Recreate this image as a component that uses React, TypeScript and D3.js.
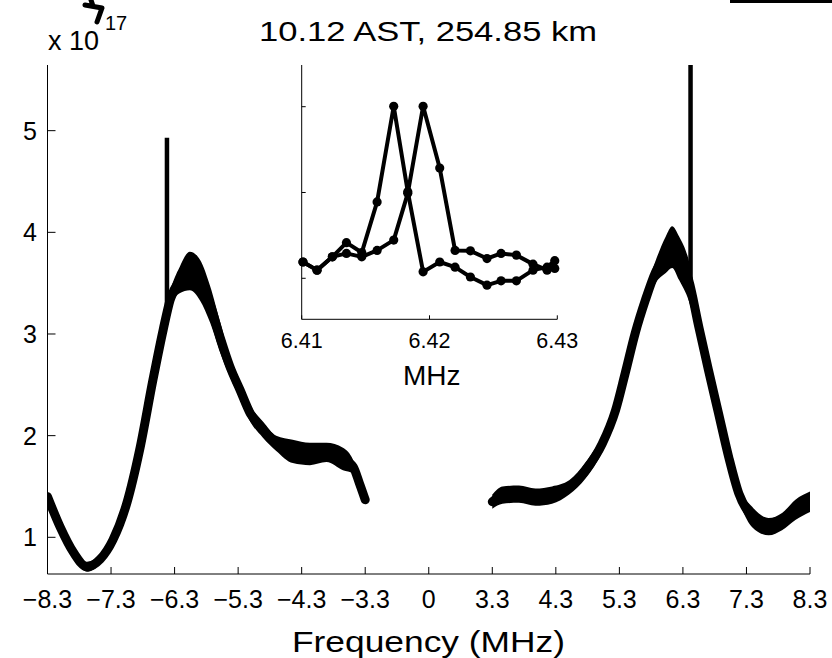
import React from "react";
import * as d3 from "d3";

// ---------- data ----------
const xTickValues = [-8.3, -7.3, -6.3, -5.3, -4.3, -3.3, 0, 3.3, 4.3, 5.3, 6.3, 7.3, 8.3];
const yTickValues = [1, 2, 3, 4, 5];

const leftFreq = [-8.3, -8.1, -7.89, -7.68, -7.47, -7.27, -7.05, -6.85, -6.64, -6.48, -6.37, -6.22, -6.06, -5.9, -5.74, -5.58, -5.43, -5.27, -5.11, -4.91, -4.7, -4.44, -4.17, -3.91, -3.65, -3.49, -3.39, -3.3];
const leftLow = [1.37, 1.07, 0.82, 0.66, 0.74, 0.94, 1.3, 1.81, 2.5, 2.98, 3.25, 3.4, 3.43, 3.33, 3.11, 2.81, 2.58, 2.36, 2.14, 1.98, 1.85, 1.73, 1.71, 1.74, 1.66, 1.63, 1.48, 1.33];
const leftHigh = [1.43, 1.13, 0.88, 0.76, 0.83, 1.01, 1.38, 1.91, 2.6, 3.1, 3.42, 3.66, 3.81, 3.73, 3.47, 3.11, 2.78, 2.54, 2.3, 2.14, 2.0, 1.96, 1.93, 1.93, 1.88, 1.76, 1.58, 1.41];

const rightFreq = [3.3, 3.46, 3.72, 3.98, 4.24, 4.51, 4.77, 5.03, 5.24, 5.39, 5.55, 5.71, 5.87, 6.03, 6.13, 6.24, 6.39, 6.55, 6.7, 6.86, 7.02, 7.18, 7.39, 7.65, 7.86, 8.07, 8.3];
const rightLow = [1.28, 1.33, 1.34, 1.31, 1.33, 1.42, 1.58, 1.84, 2.17, 2.53, 2.93, 3.25, 3.5, 3.6, 3.65, 3.53, 3.33, 2.95, 2.55, 2.13, 1.71, 1.36, 1.1, 1.02, 1.07, 1.17, 1.25];
const rightHigh = [1.42, 1.5, 1.51, 1.48, 1.5, 1.56, 1.74, 2.0, 2.33, 2.69, 3.09, 3.42, 3.72, 3.96, 4.06, 3.96, 3.73, 3.19, 2.75, 2.31, 1.87, 1.5, 1.3, 1.19, 1.24, 1.37, 1.45];

const spikeFreq = [-6.42, 6.42];
const spikeBase = [3.2, 3.5];
const spikeTop = [4.93, 8.0];

const insetFreq = [6.4101, 6.4112, 6.4124, 6.4135, 6.4147, 6.4159, 6.4172, 6.4183, 6.4195, 6.4208, 6.422, 6.4232, 6.4245, 6.4256, 6.4268, 6.4281, 6.4292, 6.4298];
const insetA = [4.38, 4.19, 4.5, 4.83, 4.6, 5.78, 8.01, 6.02, 4.15, 4.38, 4.26, 4.03, 3.84, 3.94, 3.94, 4.19, 4.26, 4.41];
const insetB = [4.38, 4.19, 4.5, 4.58, 4.5, 4.65, 4.89, 5.98, 8.01, 6.57, 4.65, 4.64, 4.46, 4.58, 4.54, 4.33, 4.19, 4.23];
const insetXTicks = [6.41, 6.42, 6.43];
const insetYTicks = [4, 6, 8];

const titleText = "10.12 AST, 254.85 km";
const xLabelText = "Frequency (MHz)";
const insetXLabel = "MHz";

// ---------- layout ----------
const W = 832, H = 658;
const M = { left: 47.5, right: 810, top: 65, bottom: 574 };
const I = { left: 301.7, right: 557.3, top: 65, bottom: 319.3 };
const FONT = "'Liberation Sans', Arial, Helvetica, sans-serif";

export default function App() {
  const x = d3.scaleLinear()
    .domain([-8.3, -3.3, 3.3, 8.3])
    .range([M.left, M.left + 5 * (M.right - M.left) / 12, M.left + 7 * (M.right - M.left) / 12, M.right]);
  const y = d3.scaleLinear().domain([0.639, 5.646]).range([M.bottom, M.top]);

  const xi = d3.scaleLinear().domain([6.41, 6.43]).range([I.left, I.right]);
  const yi = d3.scaleLinear().domain([3.044, 8.972]).range([I.bottom, I.top]);

  const fmt = (v: number) => (v < 0 ? "\u2212" + Math.abs(v) : String(v));

  const seg = (f: number[], lo: number[], hi: number[]) => {
    const pts = f.map((v, i) => ({ f: v, lo: lo[i], hi: hi[i] }));
    const area = d3.area<any>().x(d => x(d.f)).y0(d => y(d.lo)).y1(d => y(d.hi)).curve(d3.curveMonotoneX);
    const line = d3.line<any>().x(d => x(d.f)).y(d => y((d.lo + d.hi) / 2)).curve(d3.curveMonotoneX);
    return { area: area(pts) || "", line: line(pts) || "" };
  };
  const L = seg(leftFreq, leftLow, leftHigh);
  const R = seg(rightFreq, rightLow, rightHigh);

  const insetLine = d3.line<number>().x((_, i) => xi(insetFreq[i])).y(d => yi(d));

  return (
    <svg width={W} height={H} style={{ position: "absolute", left: 0, top: 0, background: "#fff" }} fontFamily={FONT}>
      <rect x={0} y={0} width={W} height={H} fill="#fff" />
      <defs>
        <clipPath id="mainClip">
          <rect x={M.left} y={M.top} width={M.right - M.left} height={M.bottom - M.top} />
        </clipPath>
      </defs>

      {/* top-right black bar & stray mark */}
      <rect x={730} y={0} width={102} height={3} fill="#000" />
      <path d="M85,5 L102,8 L97,22 M91,0 L93,6" stroke="#000" strokeWidth={5} fill="none" strokeLinecap="round" strokeLinejoin="round" />

      {/* title */}
      <text x={428} y={41} fontSize={28} textAnchor="middle" textLength={338} lengthAdjust="spacingAndGlyphs">{titleText}</text>

      {/* exponent */}
      <text x={48} y={50} fontSize={27}>x 10</text>
      <text x={105} y={30} fontSize={20}>17</text>

      {/* main curves */}
      <g clipPath="url(#mainClip)">
        <path d={L.area} fill="#000" />
        <path d={L.line} fill="none" stroke="#000" strokeWidth={9} strokeLinejoin="round" strokeLinecap="round" />
        <path d={R.area} fill="#000" />
        <path d={R.line} fill="none" stroke="#000" strokeWidth={9} strokeLinejoin="round" strokeLinecap="round" />
        {spikeFreq.map((f, i) => (
          <line key={i} x1={x(f)} x2={x(f)} y1={y(spikeBase[i])} y2={y(spikeTop[i])} stroke="#000" strokeWidth={4.5} />
        ))}
      </g>

      {/* main axes */}
      <line x1={M.left} x2={M.left} y1={M.top} y2={M.bottom} stroke="#000" strokeWidth={1} />
      <line x1={M.left} x2={M.right} y1={M.bottom} y2={M.bottom} stroke="#000" strokeWidth={1} />
      {xTickValues.map((v, i) => (
        <g key={"xt" + i}>
          <line x1={x(v)} x2={x(v)} y1={M.bottom} y2={M.bottom - 7} stroke="#000" strokeWidth={1} />
          <text x={x(v)} y={608} fontSize={25} textAnchor="middle">{fmt(v)}</text>
        </g>
      ))}
      {yTickValues.map((v, i) => (
        <g key={"yt" + i}>
          <line x1={M.left} x2={M.left + 8} y1={y(v)} y2={y(v)} stroke="#000" strokeWidth={1} />
          <text x={37} y={y(v) + 9} fontSize={25} textAnchor="end">{v}</text>
        </g>
      ))}
      <text x={428.5} y={652} fontSize={29} textAnchor="middle" textLength={273} lengthAdjust="spacingAndGlyphs">{xLabelText}</text>

      {/* inset */}
      <g>
        <path d={insetLine(insetA) || ""} fill="none" stroke="#000" strokeWidth={4} strokeLinejoin="round" />
        <path d={insetLine(insetB) || ""} fill="none" stroke="#000" strokeWidth={4} strokeLinejoin="round" />
        {insetA.map((v, i) => <circle key={"a" + i} cx={xi(insetFreq[i])} cy={yi(v)} r={4.6} fill="#000" />)}
        {insetB.map((v, i) => <circle key={"b" + i} cx={xi(insetFreq[i])} cy={yi(v)} r={4.6} fill="#000" />)}
        <line x1={I.left} x2={I.left} y1={I.top} y2={I.bottom} stroke="#000" strokeWidth={1} />
        <line x1={I.left} x2={I.right} y1={I.bottom} y2={I.bottom} stroke="#000" strokeWidth={1} />
        {insetXTicks.map((v, i) => (
          <g key={"ixt" + i}>
            <line x1={xi(v)} x2={xi(v)} y1={I.bottom} y2={I.bottom - 4} stroke="#000" strokeWidth={1} />
            <text x={xi(v)} y={348} fontSize={21.5} textAnchor="middle">{v.toFixed(2)}</text>
          </g>
        ))}
        {insetYTicks.map((v, i) => (
          <line key={"iyt" + i} x1={I.left} x2={I.left + 4} y1={yi(v)} y2={yi(v)} stroke="#000" strokeWidth={1} />
        ))}
        <text x={431.7} y={385} fontSize={28} textAnchor="middle">{insetXLabel}</text>
      </g>
    </svg>
  );
}
